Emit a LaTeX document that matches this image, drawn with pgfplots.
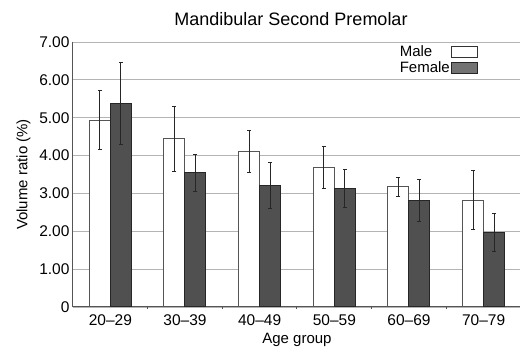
\documentclass[border=0pt]{standalone}
\usepackage{pgfplots}
\pgfplotsset{compat=1.18}
\usepackage{fontspec}
\setmainfont{Liberation Sans}
\definecolor{fem}{HTML}{505050}
\definecolor{gridc}{HTML}{B4B4B4}
\definecolor{axc}{HTML}{555555}
\begin{document}
\begin{tikzpicture}[x=1pt,y=1pt]
\path[use as bounding box] (-73,-45) rectangle (447,307);
\begin{axis}[
  at={(0,0)}, anchor=south west,
  scale only axis, width=448pt, height=265pt,
  xmin=-0.5, xmax=5.5, ymin=0, ymax=7,
  ybar=0pt, bar width=21pt,
  xtick={0,1,2,3,4,5},
  xticklabels={20–29,30–39,40–49,50–59,60–69,70–79},
  minor xtick={0.5,1.5,2.5,3.5,4.5},
  major x tick style={draw=none},
  minor x tick style={axc, line width=1pt},
  minor tick length=2pt,
  ytick={0,1,2,3,4,5,6,7},
  yticklabels={0,1.00,2.00,3.00,4.00,5.00,6.00,7.00},
  ytick style={draw=none},
  ymajorgrids, grid style={gridc, line width=0.9pt},
  axis x line*=bottom, axis y line*=left,
  axis line style={axc, line width=1pt, -},
  tick label style={font=\fontsize{15.5}{18}\selectfont},
  /pgf/number format/assume math mode=true,
  title={Mandibular Second Premolar},
  title style={font=\fontsize{18}{21}\selectfont, yshift=7pt, xshift=-6pt},
  xlabel={Age group},
  ylabel={Volume ratio (\%)},
  label style={font=\fontsize{15}{18}\selectfont},
  xlabel style={yshift=-1pt},
  ylabel style={yshift=2pt},
  legend style={draw=none, fill=none, at={(0.72,1.0)}, anchor=north west,
    font=\fontsize{15}{18}\selectfont, row sep=0pt,
    nodes={inner sep=1pt, text height=11pt, text depth=3pt}},
  legend cell align=left,
]
\addplot[draw=axc, fill=white, line width=1pt,
  legend image code/.code={\draw[draw=black!80, fill=white, line width=1.3pt, overlay] (53pt,-5.5pt) rectangle (79pt,5.5pt);},
  error bars/.cd, y dir=both, y explicit,
  error bar style={black!85, line width=0.9pt},
  error mark options={rotate=90, mark size=2pt, line width=0.9pt, black!85}]
coordinates {
(0,4.93) +- (0,0.78)
(1,4.44) +- (0,0.85)
(2,4.11) +- (0,0.55)
(3,3.69) +- (0,0.55)
(4,3.18) +- (0,0.25)
(5,2.82) +- (0,0.78)
};
\addlegendentry{Male}
\addplot[draw=black!85, fill=fem, line width=1pt,
  legend image code/.code={\draw[draw=black!85, fill=fem!80, line width=1.3pt, overlay] (53pt,-5.5pt) rectangle (79pt,5.5pt);},
  error bars/.cd, y dir=both, y explicit,
  error bar style={black!85, line width=0.9pt},
  error mark options={rotate=90, mark size=2pt, line width=0.9pt, black!85}]
coordinates {
(0,5.38) +- (0,1.08)
(1,3.55) +- (0,0.49)
(2,3.20) +- (0,0.61)
(3,3.13) +- (0,0.51)
(4,2.81) +- (0,0.56)
(5,1.98) +- (0,0.50)
};
\addlegendentry{Female}
\end{axis}
\end{tikzpicture}
\end{document}
